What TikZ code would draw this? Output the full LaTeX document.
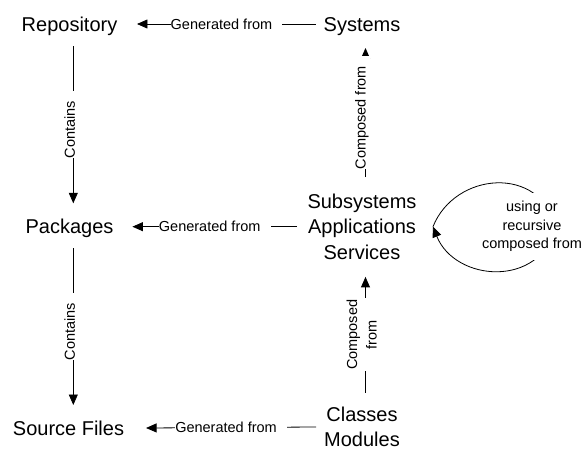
\documentclass[tikz,border=0pt]{standalone}
\usepackage{fontspec}
\setmainfont{Liberation Sans}
\usetikzlibrary{arrows.meta}
\newcommand{\trailgap}{\rule{10pt}{0pt}}
\begin{document}
\begin{tikzpicture}[x=1pt,y=-1pt,
  base/.style={font=\fontsize{20}{25.5}\selectfont, inner sep=0pt, outer sep=0pt},
  ent/.style={base, text height=14.3pt, text depth=0pt},
  multi/.style={base, align=center},
  lab/.style={font=\fontsize{14.5}{18.5}\selectfont, fill=white, inner xsep=0pt, inner ysep=1.5pt},
  hlab/.style={lab},
  vlab/.style={lab, xshift=-3.7pt, rotate=90},
  looplab/.style={font=\fontsize{14.5}{18.5}\selectfont, align=center, fill=white, inner xsep=3pt, inner ysep=8pt, xshift=-24pt},
  conn/.style={line width=0.8pt, -{Triangle[length=10.5pt,width=9pt]}}
]
\fill[white] (0,0) rectangle (582,450);
\useasboundingbox (0,0) rectangle (582,450);

\node[ent] (repo) at (69.5,24) {Repository};
\node[ent] (sys) at (362,24) {Systems};
\node[ent] (pkg) at (69.5,226.7) {Packages};
\node[multi] (ssa) at (362,226.7) {Subsystems\\Applications\\Services};
\node[ent] (src) at (68.5,428) {Source Files};
\node[multi] (cm) at (362,427) {Classes\\Modules};

% generated from
\draw[conn] ([xshift=-7.7pt]sys.west) -- node[hlab]{Generated from\trailgap} ([xshift=19.7pt]repo.east);
\draw[conn] ([xshift=-10.5pt]ssa.west) -- node[hlab]{Generated from\trailgap} ([xshift=19pt]pkg.east);
\draw[conn] ([xshift=-8.2pt]cm.west) -- node[hlab]{Generated from\trailgap} ([xshift=22pt]src.east);

% contains
\draw[conn] ([xshift=3.8pt,yshift=-14.85pt]repo.south) -- node[vlab]{Contains\trailgap} ([xshift=3.8pt,yshift=16.25pt]pkg.north);
\draw[conn] ([xshift=3.8pt,yshift=-14.15pt]pkg.south) -- node[vlab]{Contains\trailgap} ([xshift=4.8pt,yshift=15.85pt]src.north);

% composed from
\draw[conn] ([xshift=3.5pt,yshift=16.75pt]ssa.north) -- node[vlab]{Composed from\trailgap} ([xshift=3.5pt,yshift=-16.85pt]sys.south);
\draw[conn] ([xshift=3.5pt,yshift=14.05pt]cm.north) -- node[vlab, align=center, font=\fontsize{14.5}{19.5}\selectfont, inner xsep=1.5pt]{Composed\\from} ([xshift=3.5pt,yshift=-17.35pt]ssa.south);

% loop
\draw[conn] ([xshift=16.5pt]ssa.east) .. controls +(22,-55) and +(-16,-62) .. ([xshift=139.5pt]ssa.east)
  node[looplab]{using or\\recursive\\composed from}
  .. controls +(-16,62) and +(22,55) .. ([xshift=16.5pt]ssa.east);
\end{tikzpicture}
\end{document}
